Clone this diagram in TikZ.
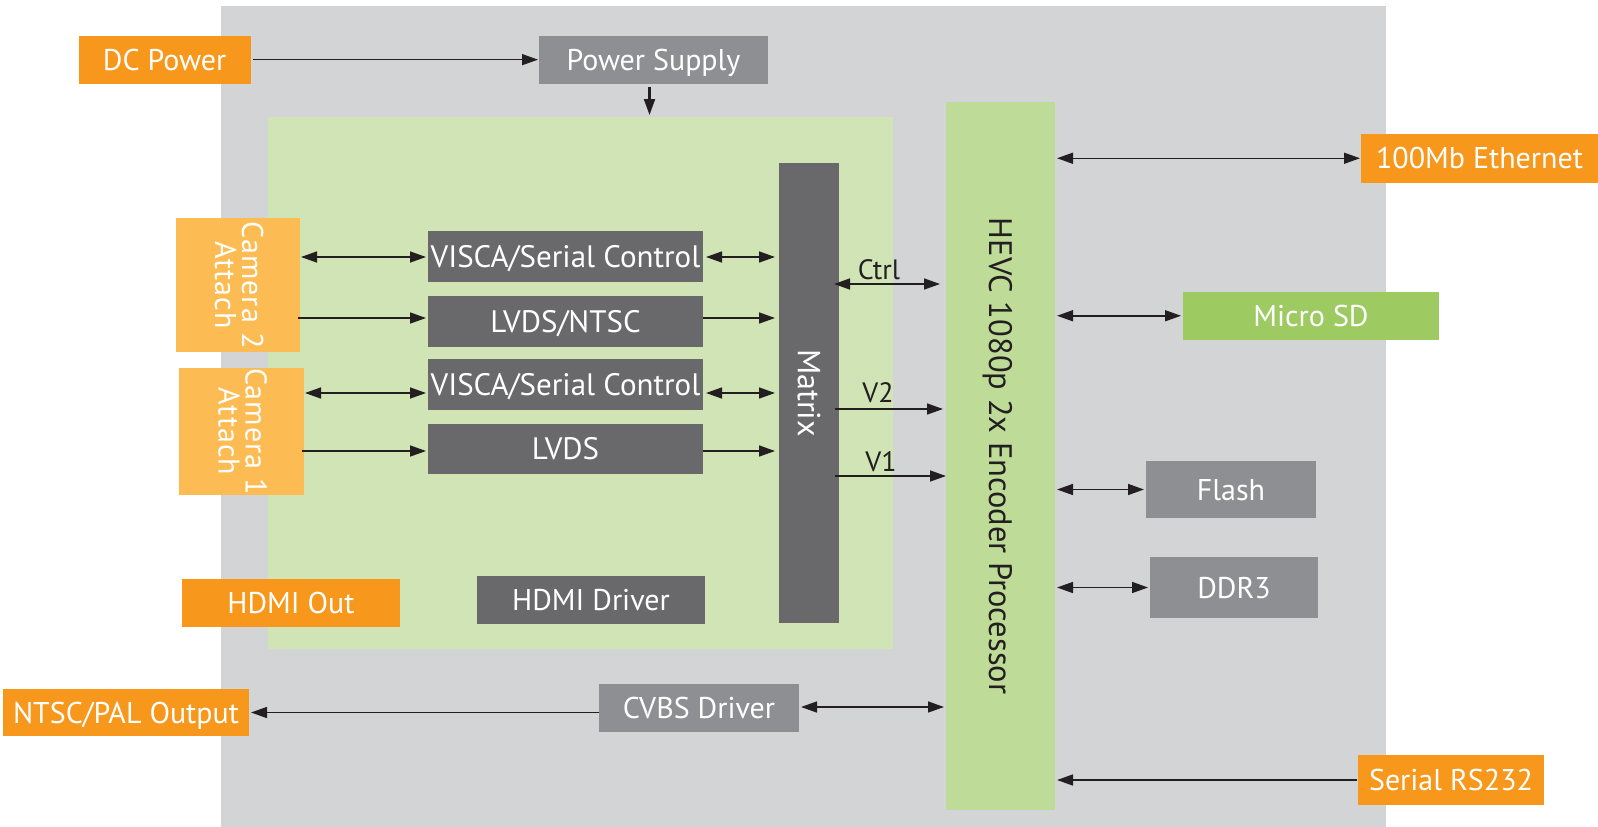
\documentclass[tikz,border=0pt]{standalone}
\usepackage{fontspec}
\setmainfont{PT Sans}
\usetikzlibrary{arrows.meta}
\definecolor{bggray}{HTML}{D3D4D6}
\definecolor{lgreen}{HTML}{D0E4B5}
\definecolor{hgreen}{HTML}{BEDC98}
\definecolor{sdgreen}{HTML}{9DCB62}
\definecolor{orng}{HTML}{F7981D}
\definecolor{lorng}{HTML}{FDBC53}
\definecolor{mgray}{HTML}{8E8F92}
\definecolor{dgray}{HTML}{69696B}
\definecolor{ink}{HTML}{231F20}
\newcommand{\bx}[7]{\node[#6,minimum width={(#4-#2)*1pt},minimum height={(#5-#3)*1pt}] (#1) at ({(#2+#4)/2},{(#3+#5)/2}) {#7};}
\begin{document}
\begin{tikzpicture}[x=1pt,y=-1pt,
  blk/.style={inner sep=0pt,outer sep=0pt,text=white,font=\fontsize{30}{32}\selectfont,text height=21pt,text depth=0pt},
  ob/.style={blk,fill=orng},
  lob/.style={blk,fill=lorng},
  mg/.style={blk,fill=mgray},
  dg/.style={blk,fill=dgray},
  sg/.style={blk,fill=sdgreen},
  hg/.style={blk,fill=hgreen},
  big/.style={font=\fontsize{31}{33}\selectfont,text height=21.7pt},
  area/.style={inner sep=0pt,outer sep=0pt},
  rtxt/.style={rotate=-90,inner sep=0pt,align=center},
  camtxt/.style={rtxt,text=white,font=\fontsize{30}{27}\selectfont\addfontfeature{LetterSpace=3.5}},
  lbl/.style={text=ink,font=\fontsize{28}{30}\selectfont,inner sep=0pt},
  one/.style={draw=ink,line width=1.5pt,-{Triangle[length=16pt,width=11pt]}},
  two/.style={draw=ink,line width=1.5pt,{Triangle[length=16pt,width=11pt]}-{Triangle[length=16pt,width=11pt]}},
]
\useasboundingbox (0,0) rectangle (1598,827);
% backgrounds
\bx{board}{221}{6}{1386}{827}{area,fill=bggray}{}
\bx{green}{268}{117}{893}{649}{area,fill=lgreen}{}
% top
\bx{dc}{78.5}{35.7}{250.8}{83.6}{ob}{DC Power}
\bx{ps}{539}{35.7}{768}{83.6}{mg}{Power Supply}
% processor
\bx{hevc}{946}{102}{1055}{810}{hg}{}
\node[rtxt,text=ink,font=\fontsize{32.5}{34}\selectfont,text height=22.7pt,text depth=0pt] (hevct) at (hevc.center) {HEVC 1080p 2x Encoder Processor};
% right side
\bx{eth}{1361}{134}{1598}{182.5}{ob}{100Mb Ethernet}
\bx{sd}{1183}{292}{1439}{339.5}{sg}{Micro SD}
\bx{flash}{1146}{461}{1316}{518}{mg}{Flash}
\bx{ddr}{1150}{557}{1318}{618}{mg}{DDR3}
\bx{rs}{1358}{755}{1544}{805}{ob}{Serial RS232}
% matrix
\bx{mx}{779}{163}{839}{623}{dg}{}
\node[rtxt,text=white,font=\fontsize{32}{34}\selectfont,text height=22.4pt,text depth=0pt] (mxt) at (mx.center) {Matrix};
% camera blocks
\bx{vA}{428}{231}{703}{282}{dg,big}{VISCA/Serial Control}
\bx{lA}{428}{296}{703}{347}{dg,big}{LVDS/NTSC}
\bx{vB}{428}{359}{703}{410}{dg,big}{VISCA/Serial Control}
\bx{lB}{428}{424}{703}{474}{dg,big}{LVDS}
\bx{cam2}{176}{218}{300}{352}{lob}{}
\node[camtxt] (cam2t) at ([xshift=1pt]cam2.center) {Camera 2\\Attach};
\bx{cam1}{179}{368}{304}{495}{lob}{}
\node[camtxt] (cam1t) at ([xshift=1pt]cam1.center) {Camera 1\\Attach};
% bottom
\bx{hdmio}{182}{579}{400}{627}{ob}{HDMI Out}
\bx{hdmid}{477}{576}{705}{624}{dg}{HDMI Driver}
\bx{ntsc}{3}{689}{249}{736}{ob}{NTSC/PAL Output}
\bx{cvbs}{599}{684}{799}{732}{mg}{CVBS Driver}
% levels
\coordinate (y1) at (0,257);
\coordinate (y2) at (0,318);
\coordinate (y3) at (0,393);
\coordinate (y4) at (0,451);
\coordinate (yc) at (0,284);
\coordinate (yv2) at (0,409);
\coordinate (yv1) at (0,476);
\coordinate (ycv) at (0,707);
% connectors
\draw[one,shorten <=2pt,shorten >=1pt] (dc.east) -- (ps.west);
\draw[one,line width=2.2pt,shorten <=3pt,shorten >=2pt] ([xshift=-4pt]ps.south) -- ([xshift=-4pt]ps.south |- green.north);
\draw[two,shorten <=2pt,shorten >=1pt] (hevc.east |- eth.west) -- (eth.west);
\draw[two,shorten <=2pt,shorten >=2pt] (hevc.east |- sd.west) -- (sd.west);
\draw[two,shorten <=2pt,shorten >=2pt] (hevc.east |- flash.west) -- (flash.west);
\draw[two,shorten <=2pt,shorten >=2pt] (hevc.east |- ddr.west) -- (ddr.west);
\draw[one,shorten <=1pt,shorten >=2pt] (rs.west) -- (hevc.east |- rs.west);
\draw[two,shorten <=1pt,shorten >=2pt] (cam2.east |- y1) -- (vA.west |- y1);
\draw[one,shorten <=-2pt,shorten >=2pt] (cam2.east |- y2) -- (lA.west |- y2);
\draw[two,shorten <=1pt,shorten >=2pt] (cam1.east |- y3) -- (vB.west |- y3);
\draw[one,shorten <=-2pt,shorten >=2pt] (cam1.east |- y4) -- (lB.west |- y4);
\draw[two,shorten <=3pt,shorten >=4pt] (vA.east |- y1) -- (mx.west |- y1);
\draw[one,shorten <=0pt,shorten >=4pt] (lA.east |- y2) -- (mx.west |- y2);
\draw[two,shorten <=3pt,shorten >=4pt] (vB.east |- y3) -- (mx.west |- y3);
\draw[one,shorten <=0pt,shorten >=4pt] (lB.east |- y4) -- (mx.west |- y4);
\draw[two,shorten <=-5pt,shorten >=6pt] (mx.east |- yc) -- (hevc.west |- yc);
\draw[one,shorten <=-4pt,shorten >=3pt] (mx.east |- yv2) -- (hevc.west |- yv2);
\draw[one,shorten <=-4pt,shorten >=0pt] (mx.east |- yv1) -- (hevc.west |- yv1);
\node[lbl] (lctrl) at (879,270) {Ctrl};
\node[lbl] (lv2) at (878,393) {V2};
\node[lbl] (lv1) at (881,462) {V1};
\draw[two,shorten <=2pt,shorten >=2pt] (cvbs.east |- ycv) -- (hevc.west |- ycv);
\draw[one,shorten <=0pt,shorten >=2pt] (cvbs.west |- ntsc.east) -- (ntsc.east);
\end{tikzpicture}
\end{document}
